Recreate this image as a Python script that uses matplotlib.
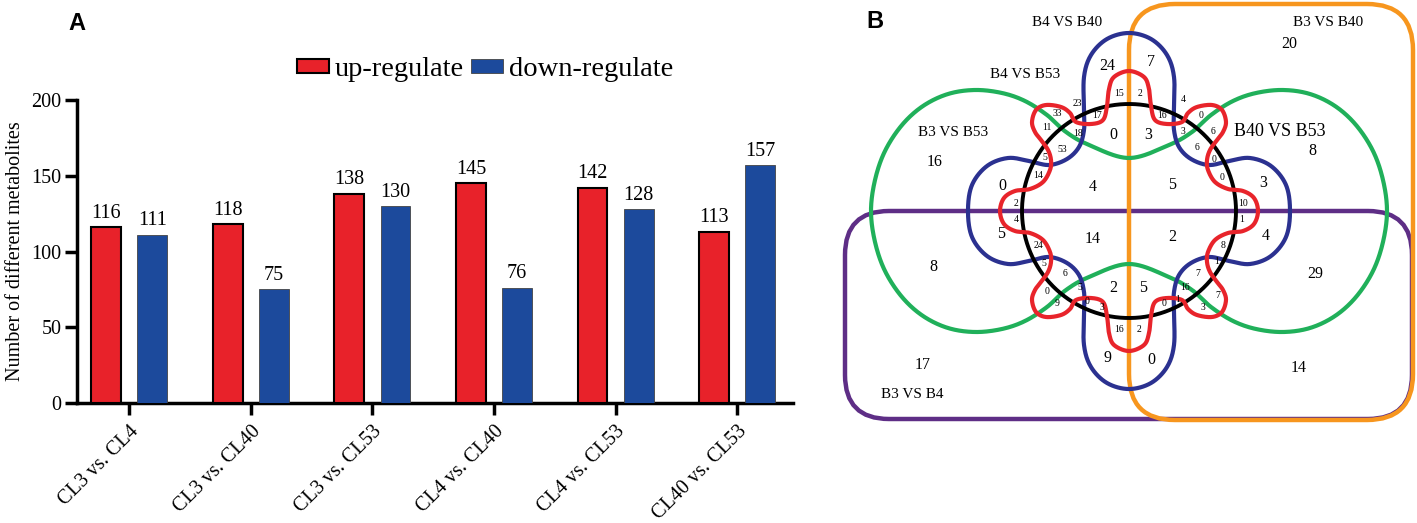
import numpy as np
import matplotlib
matplotlib.use('Agg')
import matplotlib.pyplot as plt
from matplotlib import patches

plt.rcParams['font.family'] = ['Liberation Serif', 'DejaVu Serif']

# ---------- datos panel A ----------
comparaciones = ['CL3 vs. CL4', 'CL3 vs. CL40', 'CL3 vs. CL53',
                 'CL4 vs. CL40', 'CL4 vs. CL53', 'CL40 vs. CL53']
up_reg = [116, 118, 138, 145, 142, 113]
down_reg = [111, 75, 130, 76, 128, 157]

# ---------- datos panel B (Venn de 6 conjuntos) ----------
set_names = ['B3 VS B4', 'B3 VS B40', 'B4 VS B40', 'B4 VS B53', 'B3 VS B53', 'B40 VS B53']
# conteos grandes y pequeños de cada region
venn_big = [24, 7, 20, 16, 0, 3, 8, 0, 4, 5, 3, 5, 14, 2, 4, 8, 29, 2, 5, 9, 0, 17, 14]
venn_small = [15, 2, 23, 4, 33, 17, 16, 0, 11, 18, 3, 6, 53, 6, 5, 0, 14, 0, 2, 10,
              4, 1, 24, 8, 5, 1, 6, 7, 5, 16, 0, 7, 9, 0, 0, 1, 3, 3, 16, 2]

# posiciones (px) de las etiquetas
pos_big = [(1107, 66), (1151, 62), (1289, 44), (935, 162), (1113, 135), (1148, 135),
           (1312, 151), (1002, 186), (1093, 187), (1172, 185), (1263, 183), (1001, 234),
           (1093, 239), (1172, 237), (1266, 236), (933, 267), (1315, 274), (1113, 288),
           (1143, 288), (1107, 358), (1151, 360), (923, 365), (1299, 368)]
pos_small = [(1119, 93), (1140, 93), (1077, 103), (1183, 100), (1057, 113), (1097, 116),
             (1162, 116), (1201, 116), (1047, 128), (1078, 133), (1183, 132), (1213, 131),
             (1062, 149), (1197, 147), (1045, 157), (1214, 160), (1038, 176), (1222, 178),
             (1016, 203), (1243, 203), (1016, 220), (1242, 220), (1038, 246), (1223, 245),
             (1044, 263), (1217, 262), (1065, 273), (1198, 273), (1080, 288), (1185, 288),
             (1047, 292), (1218, 295), (1057, 303), (1087, 302), (1164, 303), (1178, 300),
             (1102, 308), (1203, 308), (1119, 329), (1139, 329)]
pos_names = [(912, 395), (1328, 23), (1067, 23), (1025, 74), (953, 132), (1280, 131)]

# contornos (primer cuadrante, coords locales respecto al centro)
cx, cy = 1129, 211
q_red = [(129, 0), (125, 13), (114, 20), (99, 22), (86, 29), (79, 41), (78, 51), (81, 61),
         (88, 71), (94, 79), (97, 89), (93, 101), (83, 106), (68, 104), (59, 98), (53, 89),
         (38, 87), (26, 91), (22, 105), (20, 122), (15, 134), (0, 140)]
q_blue = [(161, 0), (157, 26), (142, 45), (121, 53), (100, 50), (80, 46), (62, 52), (50, 64),
          (45, 81), (45, 101), (45, 134), (38, 156), (22, 172), (0, 178)]
q_green = [(258, 0), (254, 31), (244, 60), (227, 86), (206, 105), (181, 117), (154, 121),
           (127, 118), (104, 110), (82, 96), (63, 79), (40, 66), (0, 53)]

colores = {'up': '#E8222A', 'down': '#1C4A9C', 'rojo': '#E8242B', 'azul': '#2B3190',
           'verde': '#20B05A', 'morado': '#5E2E86', 'naranja': '#F7961E'}


def cuadrante_a_curva(q):
    q = [tuple(p) for p in q]
    mitad = q + [(-u, v) for (u, v) in reversed(q[:-1])]
    abajo = [(u, -v) for (u, v) in reversed(mitad[1:-1])]
    pts = np.array(mitad + abajo, dtype=float)
    return pts


def catmull_cerrada(pts, n=24):
    N = len(pts)
    t = np.linspace(0, 1, n, endpoint=False)[:, None]
    seg = []
    for i in range(N):
        p0, p1, p2, p3 = pts[i - 1], pts[i], pts[(i + 1) % N], pts[(i + 2) % N]
        seg.append(0.5 * (2 * p1 + (p2 - p0) * t + (2 * p0 - 5 * p1 + 4 * p2 - p3) * t ** 2
                          + (-p0 + 3 * p1 - 3 * p2 + p3) * t ** 3))
    out = np.vstack(seg)
    return np.vstack([out, out[:1]])


W, H = 1417, 523
fig = plt.figure(figsize=(W / 100, H / 100), dpi=100)

# ---------------- Panel A ----------------
ax = fig.add_axes([77 / W, 1 - 403 / H, (793 - 77) / W, (403 - 100) / H])
x = np.arange(len(comparaciones))
ancho = 0.245
ax.bar(x - 0.19, up_reg, ancho, color=colores['up'], edgecolor='black', linewidth=1.5,
       label='up-regulate', zorder=3)
ax.bar(x + 0.19, down_reg, ancho, color=colores['down'], edgecolor='#444444', linewidth=0.6,
       label='down-regulate', zorder=3)
for xi, v in zip(x - 0.19, up_reg):
    ax.text(xi, v + 3, str(v), ha='center', va='bottom', fontsize=14.5)
for xi, v in zip(x + 0.19, down_reg):
    ax.text(xi, v + 3, str(v), ha='center', va='bottom', fontsize=14.5)

ax.set_xlim(-0.43, 5.46)
ax.set_ylim(0, 200)
ax.set_yticks([0, 50, 100, 150, 200])
ax.set_xticks(x)
ax.set_xticklabels(comparaciones, rotation=45, ha='right', va='top', rotation_mode='anchor',
                   fontsize=14.5)
ax.tick_params(axis='y', labelsize=14.5, length=9, width=2.5, pad=2)
ax.tick_params(axis='x', length=8.5, width=2.5, pad=5)
for s in ['top', 'right']:
    ax.spines[s].set_visible(False)
for s in ['left', 'bottom']:
    ax.spines[s].set_linewidth(2.5)
ax.set_ylabel('Number of different metabolites', fontsize=14.5, labelpad=5)
ax.legend(loc='center', bbox_to_anchor=(0.570, 1.10), ncol=2, frameon=False, fontsize=20.5,
          handlelength=1.12, handleheight=0.38, handletextpad=0.2, columnspacing=0.25)

fig.text(68 / W, 1 - 23 / H, 'A', fontsize=17, fontweight='bold', family='Liberation Sans',
         ha='left', va='center')
fig.text(866 / W, 1 - 22 / H, 'B', fontsize=17, fontweight='bold', family='Liberation Sans',
         ha='left', va='center')

# ---------------- Panel B ----------------
bx = fig.add_axes([830 / W, 0, (W - 830) / W, 1])
bx.set_xlim(830, W)
bx.set_ylim(H, 0)
bx.axis('off')
bx.patch.set_alpha(0)

morado = patches.FancyBboxPatch((845, 211), 1412 - 845, 419 - 211,
                                boxstyle='round,pad=0,rounding_size=44', fill=False,
                                edgecolor=colores['morado'], linewidth=3.2, zorder=1)
naranja = patches.FancyBboxPatch((1129, 4), 1413 - 1129, 420 - 4,
                                 boxstyle='round,pad=0,rounding_size=46', fill=False,
                                 edgecolor=colores['naranja'], linewidth=3.2, zorder=2)
bx.add_patch(morado)
bx.add_patch(naranja)

for q, col, z in [(q_green, colores['verde'], 3), (q_blue, colores['azul'], 4),
                  (q_red, colores['rojo'], 6)]:
    c = catmull_cerrada(cuadrante_a_curva(q))
    bx.plot(cx + c[:, 0], cy - c[:, 1], color=col, linewidth=3.0, zorder=z,
            solid_capstyle='round')

ang = np.linspace(0, 2 * np.pi, 400)
bx.plot(cx + 107 * np.cos(ang), cy + 107 * np.sin(ang), color='black', linewidth=2.8, zorder=5)

for v, (px, py) in zip(venn_big, pos_big):
    bx.text(px, py, str(v), ha='center', va='center', fontsize=11.5, zorder=8)
for v, (px, py) in zip(venn_small, pos_small):
    bx.text(px, py, str(v), ha='center', va='center', fontsize=7, zorder=8)
for i, (nombre, (px, py)) in enumerate(zip(set_names, pos_names)):
    bx.text(px, py, nombre, ha='center', va='center', fontsize=13 if i == 5 else 11, zorder=8)

fig.savefig('out.png', dpi=100)
